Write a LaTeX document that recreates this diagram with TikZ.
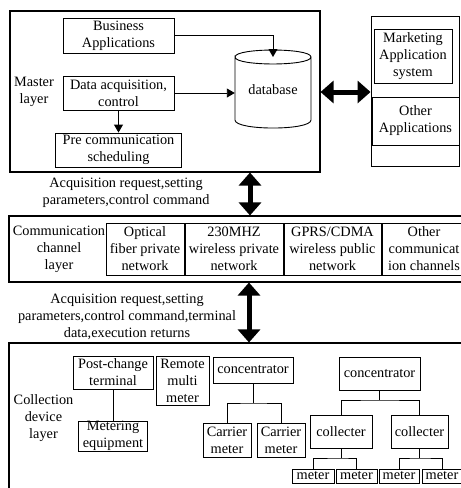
\documentclass[tikz,border=0pt]{standalone}
\usepackage{fontspec}
\setmainfont{Liberation Serif}
\usetikzlibrary{arrows.meta}
\begin{document}
\begin{tikzpicture}[x=1pt,y=-1pt,
  every node/.style={font=\fontsize{14.3}{17}\selectfont},
  box/.style={draw,line width=0.9pt,inner sep=0pt,align=center},
  layer/.style={draw,line width=1.1pt,inner sep=0pt},
  lbl/.style={align=center,inner sep=0pt},
  arr/.style={line width=0.9pt,-{Triangle[width=9pt,length=8pt]}},
  big/.style={line width=5pt,{Triangle[width=22pt,length=13pt]}-{Triangle[width=22pt,length=13pt]}},
  link/.style={line width=0.9pt}]
\useasboundingbox (0,0) rectangle (461,488);

% ---------- Master layer ----------
\node[layer,minimum width=310pt,minimum height=161pt] (master) at (165,91.5) {};
\node[lbl] (masterlbl) at (34,92) {Master\\layer};
\node[box,minimum width=111pt,minimum height=35pt] (bus) at (118.5,35.5) {Business\\Applications};
\node[box,minimum width=111pt,minimum height=34pt] (daq) at (118.5,93) {Data acquisition,\\control};
\node[box,minimum width=126pt,minimum height=34pt] (pre) at (118.5,150) {Pre communication\\scheduling};
\node[inner sep=0pt,minimum width=76pt,minimum height=79pt] (db) at (273,89.5) {database};
\draw[link] (235,57) .. controls (235,47.7) and (311,47.7) .. (311,57)
  .. controls (311,66.3) and (235,66.3) .. (235,57) -- (235,120)
  .. controls (235,130.7) and (311,130.7) .. (311,120) -- (311,57);
\coordinate (dbin) at (273,57);
\draw[arr] (bus.east) -| (dbin);
\draw[arr] (daq.east) -- (db.west |- daq.east);
\draw[arr] (daq.south) -- (pre.north);

% ---------- Applications ----------
\node[box,minimum width=88pt,minimum height=150pt] (apps) at (415,91) {};
\node[box,minimum width=78pt,minimum height=54pt] (mkt) at (413,56) {Marketing\\Application\\system};
\node[box,minimum width=87pt,minimum height=48pt] (oth) at (415.5,121) {Other\\Applications};
\coordinate (h1) at (0,92);
\draw[big] (master.east |- h1) -- (apps.west |- h1);

% ---------- Communication layer ----------
\node[layer,minimum width=466pt,minimum height=66pt] (comm) at (242,249) {};
\node[lbl] (commlbl) at (59,249) {Communication\\channel\\layer};
\node[box,minimum width=78pt,minimum height=52pt] (opt) at (145,249) {Optical\\fiber private\\network};
\node[box,minimum width=98pt,minimum height=52pt] (mhz) at (234,249) {230MHZ\\wireless private\\network};
\node[box,minimum width=97pt,minimum height=52pt] (gprs) at (332.5,249) {GPRS/CDMA\\wireless public\\network};
\node[box,minimum width=84pt,minimum height=52pt] (ocom) at (424,249) {Other\\communicat\\ion channels};

% ---------- Label 1 + arrow ----------
\node[lbl] (lab1) at (126,193) {Acquisition request,setting\\parameters,control command};
\coordinate (v1) at (250,0);
\draw[big] (master.south -| v1) -- (comm.north -| v1);

% ---------- Collection layer ----------
\node[layer,minimum width=466pt,minimum height=157pt] (coll) at (242,421.5) {};
\node[lbl] (lab2) at (127,317) {Acquisition request,setting\\parameters,control command,terminal\\data,execution returns};
\coordinate (v2) at (249,0);
\draw[big] (comm.south -| v2) -- (coll.north -| v2);
\node[lbl] (colllbl) at (43.5,418) {Collection\\device\\layer};
\node[box,minimum width=80pt,minimum height=33pt] (post) at (113,372.5) {Post-change\\terminal};
\node[box,minimum width=69pt,minimum height=30pt] (meq) at (113,436) {Metering\\equipment};
\draw[link] (post.south) -- (meq.north);
\node[box,minimum width=53pt,minimum height=49pt] (rmm) at (182.5,380.5) {Remote\\multi\\meter};

\node[box,minimum width=80pt,minimum height=26pt] (con1) at (253,370) {concentrator};
\node[box,minimum width=48pt,minimum height=34pt] (cm1) at (227,440) {Carrier\\meter};
\node[box,minimum width=48pt,minimum height=34pt] (cm2) at (281,440) {Carrier\\meter};
\coordinate (j1) at (253,403);
\draw[link] (con1.south) -- (j1);
\draw[link] (cm1.north) |- (j1) -| (cm2.north);

\node[box,minimum width=81pt,minimum height=33pt] (con2) at (379.5,373.5) {concentrator};
\node[box,minimum width=62pt,minimum height=33pt] (col1) at (341,431.5) {collecter};
\node[box,minimum width=57pt,minimum height=33pt] (col2) at (419.5,431.5) {collecter};
\coordinate (j2) at (379.5,400);
\draw[link] (con2.south) -- (j2);
\draw[link] (col1.north) |- (j2) -| (col2.north);

\node[box,minimum width=42pt,minimum height=14pt] (m1) at (313,476) {meter};
\node[box,minimum width=41pt,minimum height=14pt] (m2) at (356.5,476) {meter};
\node[box,minimum width=40pt,minimum height=14pt] (m3) at (399,476) {meter};
\node[box,minimum width=40pt,minimum height=14pt] (m4) at (442,476) {meter};
\coordinate (j3) at (341,458);
\coordinate (j4) at (419.5,458);
\draw[link] (col1.south) -- (j3);
\draw[link] (m1.north) |- (j3) -| (m2.north);
\draw[link] (col2.south) -- (j4);
\draw[link] (m3.north) |- (j4) -| (m4.north);
\end{tikzpicture}
\end{document}
